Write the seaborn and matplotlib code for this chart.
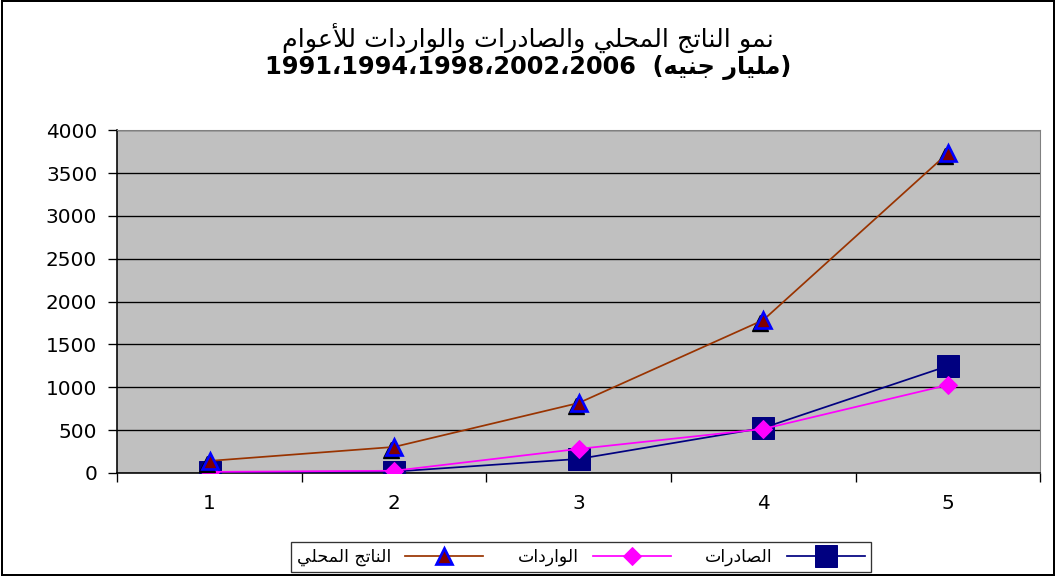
import matplotlib
matplotlib.use("Agg")
import matplotlib.pyplot as plt
import matplotlib.transforms as mtransforms
from matplotlib.patches import Rectangle
from matplotlib.ticker import FixedLocator, NullFormatter
import pandas as pd
import seaborn as sns

# values
periods = [1, 2, 3, 4, 5]
gdp = [140, 303, 816, 1784, 3732]
imports = [12, 25, 280, 513, 1026]
exports = [10, 15, 163, 525, 1248]
y_ticks = [0, 500, 1000, 1500, 2000, 2500, 3000, 3500, 4000]

title_1 = "نمو الناتج المحلي والصادرات والواردات للأعوام"
title_years = "1991،1994،1998،2002،2006"
title_unit = "مليار جنيه"
lbl_gdp = "الناتج المحلي"
lbl_imp = "الواردات"
lbl_exp = "الصادرات"

# small arabic shaper (matplotlib has no bidi / joining)
FORMS = {
    'ا': ('\uFE8D', '\uFE8E', None, None),
    'أ': ('\uFE83', '\uFE84', None, None),
    'ت': ('\uFE95', '\uFE96', '\uFE97', '\uFE98'),
    'ج': ('\uFE9D', '\uFE9E', '\uFE9F', '\uFEA0'),
    'ح': ('\uFEA1', '\uFEA2', '\uFEA3', '\uFEA4'),
    'د': ('\uFEA9', '\uFEAA', None, None),
    'ر': ('\uFEAD', '\uFEAE', None, None),
    'ص': ('\uFEB9', '\uFEBA', '\uFEBB', '\uFEBC'),
    'ع': ('\uFEC9', '\uFECA', '\uFECB', '\uFECC'),
    'ل': ('\uFEDD', '\uFEDE', '\uFEDF', '\uFEE0'),
    'م': ('\uFEE1', '\uFEE2', '\uFEE3', '\uFEE4'),
    'ن': ('\uFEE5', '\uFEE6', '\uFEE7', '\uFEE8'),
    'ه': ('\uFEE9', '\uFEEA', '\uFEEB', '\uFEEC'),
    'و': ('\uFEED', '\uFEEE', None, None),
    'ي': ('\uFEF1', '\uFEF2', '\uFEF3', '\uFEF4'),
}
LAM_ALEF = {'ا': ('\uFEFB', '\uFEFC'), 'أ': ('\uFEF7', '\uFEF8')}


def shape_word(w):
    units = []
    i = 0
    while i < len(w):
        if w[i] == 'ل' and i + 1 < len(w) and w[i + 1] in LAM_ALEF:
            units.append(('LA', w[i + 1]))
            i += 2
        else:
            units.append((w[i], None))
            i += 1
    out = []
    for k, (c, a) in enumerate(units):
        prev = units[k - 1][0] if k > 0 else None
        nxt = units[k + 1][0] if k + 1 < len(units) else None
        jp = prev in FORMS and FORMS[prev][2] is not None
        if c == 'LA':
            out.append(LAM_ALEF[a][1] if jp else LAM_ALEF[a][0])
            continue
        if c not in FORMS:
            out.append(c)
            continue
        iso, fin, ini, med = FORMS[c]
        jn = ini is not None and (nxt == 'LA' or nxt in FORMS)
        if jp and jn:
            out.append(med)
        elif jp:
            out.append(fin)
        elif jn:
            out.append(ini)
        else:
            out.append(iso)
    return ''.join(reversed(out))


def rtl(text):
    return ' '.join(shape_word(w) for w in reversed(text.split(' ')))


df = pd.DataFrame({"period": periods, "gdp": gdp, "imports": imports, "exports": exports})

plt.rcParams['font.family'] = ['DejaVu Sans']
fig = plt.figure(figsize=(11, 6), dpi=96)
ax = fig.add_axes([0.111, 0.179, 0.874, 0.595])
ax.set_facecolor("#C0C0C0")

sns.lineplot(data=df, x="period", y="exports", ax=ax, color="#000080", lw=1.3,
             marker="s", markersize=16, mec="#000080", mfc="#000080", label=rtl(lbl_exp), zorder=3)
sns.lineplot(data=df, x="period", y="imports", ax=ax, color="#FF00FF", lw=1.3,
             marker="D", markersize=10, mec="#FF00FF", mfc="#FF00FF", label=rtl(lbl_imp), zorder=4)

# black shadow behind the triangles
shadow = mtransforms.offset_copy(ax.transData, fig=fig, x=-3, y=-3, units="dots")
ax.plot(df["period"], df["gdp"], ls="none", marker="^", markersize=12, color="black",
        transform=shadow, zorder=5)
sns.lineplot(data=df, x="period", y="gdp", ax=ax, color="#993300", lw=1.3,
             marker="^", markersize=12, mec="#0000FF", mfc="#800000", mew=2,
             label=rtl(lbl_gdp), zorder=6)

ax.set_xlim(0.5, 5.5)
ax.set_ylim(0, 4000)
ax.set_yticks(y_ticks)
ax.set_yticklabels([str(v) for v in y_ticks], fontsize=15)
ax.set_xticks(periods)
ax.set_xticklabels([str(p) for p in periods], fontsize=15)
ax.xaxis.set_minor_locator(FixedLocator([0.5, 1.5, 2.5, 3.5, 4.5, 5.5]))
ax.xaxis.set_minor_formatter(NullFormatter())
ax.tick_params(axis="x", which="major", length=0, pad=16)
ax.tick_params(axis="x", which="minor", length=7, color="black", width=1)
ax.tick_params(axis="y", length=7, color="black", width=1, pad=8)
ax.grid(axis="y", color="black", lw=1)
ax.set_axisbelow(True)
ax.set_xlabel("")
ax.set_ylabel("")
for side in ["top", "right"]:
    ax.spines[side].set_color("#808080")
for side in ["left", "bottom"]:
    ax.spines[side].set_color("black")
    ax.spines[side].set_linewidth(1.2)

handles, labels = ax.get_legend_handles_labels()
ax.get_legend().remove()
order = [labels.index(rtl(lbl_gdp)), labels.index(rtl(lbl_imp)), labels.index(rtl(lbl_exp))]
leg = fig.legend([handles[i] for i in order], [labels[i] for i in order],
                 loc="center", bbox_to_anchor=(0.55, 0.033), ncol=3, markerfirst=False,
                 frameon=True, fancybox=False, edgecolor="black", fontsize=13,
                 handlelength=4.5, columnspacing=2.0, borderpad=0.35)
leg.get_frame().set_linewidth(1)

fig.text(0.5, 0.935, rtl(title_1), ha="center", va="center", fontsize=19)
fig.text(0.5, 0.882, title_years + "  (" + rtl(title_unit) + ")", ha="center", va="center",
         fontsize=18, fontweight="bold")

fig.patches.append(Rectangle((0.002, 0.002), 0.996, 0.996, transform=fig.transFigure,
                             fill=False, edgecolor="black", lw=1.5))

fig.savefig("out.png", dpi=96, facecolor="white")
